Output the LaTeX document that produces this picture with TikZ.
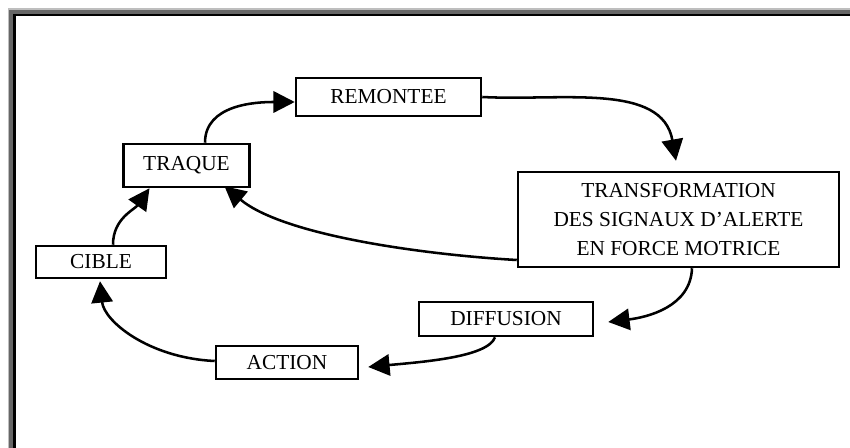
\documentclass[tikz,border=0pt]{standalone}
\usepackage{fontspec}
\setmainfont{Liberation Serif}
\usetikzlibrary{arrows.meta,calc}
\definecolor{framedark}{RGB}{102,102,102}
\definecolor{framelight}{RGB}{190,190,190}
\tikzset{
  box/.style={draw, line width=1.9pt, inner sep=0pt, font=\fontsize{16}{22}\selectfont, align=center, fill=white},
  conn/.style={line width=1.9pt, -{Triangle[length=16pt,width=16pt]}},
}
\begin{document}
\begin{tikzpicture}[x=0.75pt,y=0.75pt]
\useasboundingbox (0,0) rectangle (850,-448);
\clip (0,0) rectangle (850,-448);
% frame
\fill[framelight] (7.5,-8.5) rectangle (870,-470);
\fill[framedark] (9,-10.5) rectangle (870,-470);
\fill[black] (12.5,-14) rectangle (870,-470);
\fill[white] (15.5,-16.5) rectangle (870,-470);
% nodes
\node[box, minimum width=138.75pt, minimum height=28.5pt] (remontee) at (388.5,-97) {REMONTEE};
\node[box, minimum width=94.5pt, minimum height=32.25pt] (traque) at (186.5,-165.5) {TRAQUE};
\node[box, minimum width=97.5pt, minimum height=24pt] (cible) at (101,-262) {CIBLE};
\node[box, minimum width=106.5pt, minimum height=24.75pt] (action) at (287,-362.5) {ACTION};
\node[box, minimum width=130.5pt, minimum height=25.5pt] (diffusion) at (506,-319) {DIFFUSION};
\node[box, minimum width=240.75pt, minimum height=71.25pt] (transfo) at (678.5,-219.5) {TRANSFORMATION\\DES SIGNAUX D’ALERTE\\EN FORCE MOTRICE};
% connectors
\draw[conn] ($(traque.north)+(18.5,0)$) to[out=90,in=180] ($(remontee.west)+(0,-5)$);
\draw[conn] (remontee.east) to[out=-3,in=100] ($(transfo.north)+(-2.5,10)$);
\draw[conn] ($(transfo.west)+(0,-40.5)$) .. controls +(-88,5) and +(60,-50) .. ($(traque.south)+(38,2)$);
\draw[conn] ($(transfo.south)+(13.5,0)$) to[out=-92,in=7] ($(diffusion.east)+(14,-3)$);
\draw[conn] ($(diffusion.south)+(-11,0)$) .. controls +(-7,-20) and +(53,5) .. ($(action.east)+(9,-4.5)$);
\draw[conn] ($(action.west)+(0,1.5)$) .. controls +(-66,3) and +(4,-40) .. ($(cible.south)+(-1,-2)$);
\draw[conn] ($(cible.north)+(12,0)$) to[out=90,in=-125] ($(traque.south)+(-37,0)$);
\end{tikzpicture}
\end{document}
